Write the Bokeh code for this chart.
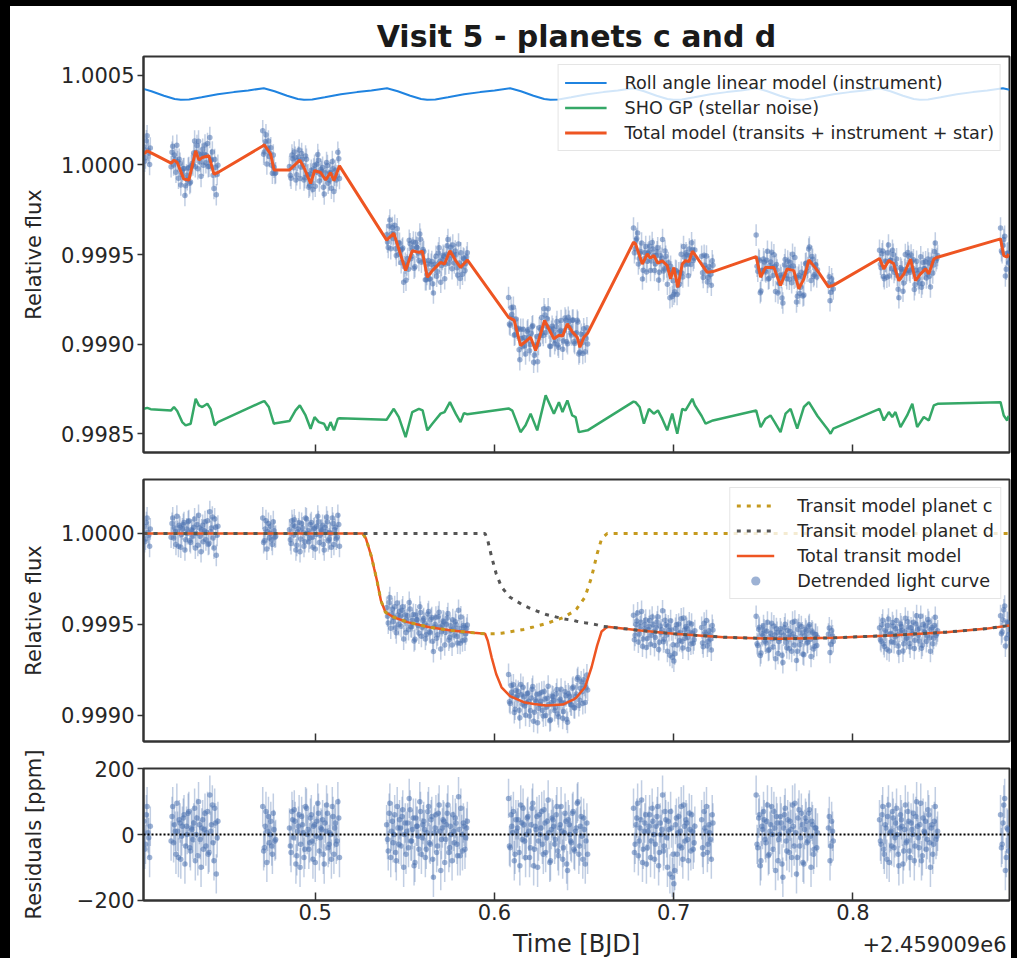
import numpy as np
from bokeh.plotting import figure
from bokeh.layouts import column
from bokeh.models import (ColumnDataSource, FixedTicker, PrintfTickFormatter, Legend,
                          LegendItem, Span, Range1d)
from bokeh.core.properties import value
from bokeh.embed import file_html
from bokeh.resources import INLINE

# ---------------- data (time offset from 2459009 BJD, fluxes in ppm relative to 1) ---------------
# observation times, first half of the exposures
t_obs = [
    0.4045, 0.4054, 0.4063, 0.4072, 0.4081,
    0.4197, 0.4206, 0.4215, 0.4224, 0.4233, 0.4242, 0.4251, 0.4260, 0.4269, 0.4278,
    0.4287, 0.4296, 0.4305, 0.4314, 0.4323, 0.4332, 0.4341, 0.4350, 0.4359, 0.4368,
    0.4377, 0.4386, 0.4395, 0.4404, 0.4413, 0.4422, 0.4431, 0.4440, 0.4449, 0.4458,
    0.4708, 0.4717, 0.4726, 0.4735, 0.4744, 0.4753, 0.4762, 0.4771, 0.4780,
    0.4857, 0.4866, 0.4875, 0.4884, 0.4893, 0.4902, 0.4911, 0.4920, 0.4929, 0.4938,
    0.4947, 0.4956, 0.4965, 0.4974, 0.4983, 0.4992, 0.5001, 0.5010, 0.5019, 0.5028,
    0.5037, 0.5046, 0.5055, 0.5064, 0.5073, 0.5082, 0.5091, 0.5100, 0.5109, 0.5118,
    0.5127, 0.5136,
    0.5399, 0.5408, 0.5417, 0.5426, 0.5435, 0.5444, 0.5453, 0.5462, 0.5471, 0.5480,
    0.5489, 0.5498, 0.5507, 0.5516, 0.5525, 0.5534, 0.5543, 0.5552, 0.5561, 0.5570,
    0.5579, 0.5588, 0.5597, 0.5606, 0.5615, 0.5624, 0.5633, 0.5642, 0.5651, 0.5660,
    0.5669, 0.5678, 0.5687, 0.5696, 0.5705, 0.5714, 0.5723, 0.5732, 0.5741, 0.5750,
    0.5759, 0.5768, 0.5777, 0.5786, 0.5795, 0.5804, 0.5813, 0.5822, 0.5831, 0.5840,
    0.5849,
    0.6079, 0.6088, 0.6097, 0.6106, 0.6115, 0.6124, 0.6133, 0.6142, 0.6151, 0.6160,
    0.6169, 0.6178, 0.6187, 0.6196, 0.6205, 0.6214, 0.6223, 0.6232, 0.6241, 0.6250,
    0.6259, 0.6268, 0.6277, 0.6286, 0.6295, 0.6304, 0.6313, 0.6322, 0.6331, 0.6340,
    0.6349, 0.6358, 0.6367, 0.6376, 0.6385, 0.6394, 0.6403, 0.6412, 0.6421, 0.6430,
    0.6439, 0.6448, 0.6457, 0.6466, 0.6475, 0.6484, 0.6493, 0.6502, 0.6511, 0.6520,
    0.6776, 0.6785, 0.6794, 0.6803, 0.6812, 0.6821, 0.6830, 0.6839, 0.6848, 0.6857,
    0.6866, 0.6875, 0.6884, 0.6893, 0.6902, 0.6911, 0.6920, 0.6929, 0.6938, 0.6947,
    0.6956, 0.6965, 0.6974, 0.6983, 0.6992, 0.7001, 0.7010, 0.7019, 0.7028, 0.7037,
    0.7046, 0.7055, 0.7064, 0.7073, 0.7082, 0.7091, 0.7100, 0.7109, 0.7118,
    0.7156, 0.7165, 0.7174, 0.7183, 0.7192, 0.7201, 0.7210, 0.7219,
    0.7460, 0.7469, 0.7478, 0.7487, 0.7496, 0.7505, 0.7514, 0.7523, 0.7532, 0.7541,
    0.7550, 0.7559, 0.7568, 0.7577, 0.7586, 0.7595, 0.7604, 0.7613, 0.7622, 0.7631,
    0.7640, 0.7649, 0.7658, 0.7667, 0.7676, 0.7685, 0.7694, 0.7703, 0.7712, 0.7721,
    0.7730, 0.7739, 0.7748, 0.7757, 0.7766, 0.7775, 0.7784, 0.7793, 0.7802,
    0.7863, 0.7872, 0.7881, 0.7890,
    0.8148, 0.8157, 0.8166, 0.8175, 0.8184, 0.8193, 0.8202, 0.8211, 0.8220, 0.8229,
    0.8238, 0.8247, 0.8256, 0.8265, 0.8274, 0.8283, 0.8292, 0.8301, 0.8310, 0.8319,
    0.8328, 0.8337, 0.8346, 0.8355, 0.8364, 0.8373, 0.8382, 0.8391, 0.8400, 0.8409,
    0.8418, 0.8427, 0.8436, 0.8445, 0.8454, 0.8463, 0.8472,
    0.8823, 0.8832, 0.8841, 0.8850, 0.8859, 0.8868,
]
resid_ppm = [
    40, -30, 85, -10, 25,
    -20, 85, 30, -60, 10, 45, -75, 25, 60, -35, 0, 70, -50, 15, 35, -80, 50, 100, -15, 20,
    -45, 65, 5, -60, 120, 30, -25, 80, -120, 40,
    85, -40, 70, 10, -25, 40, -60, 15, -15,
    20, -55, 45, 75, -90, 10, 60, -30, 30, -70, 85, 0, -45, 50, -20, 25, -85, 40, 65, -10,
    15, -60, 35, 90, -40, 5, -75, 55, 20, -30, 100, -70,
    30, -50, 95, 10, -25, 60, -80, 20, 45, -35, 75, 0, -60, 35, 110, -20, 15, -95, 50, 25,
    -45, 70, -10, 40, -70, 5, 85, -30, 55, -130, 20, -55, 65, 10, -15, 45, -85, 30, 90, -40,
    0, 60, -25, 35, -65, 15, 80, -50, 25, -10, 40,
    110, -40, 25, 70, -60, 10, 45, -95, 35, 80, -20, 0, 55, -70, 30, 95, -45, 15, -100, 60,
    20, -30, 75, -55, 40, 5, -80, 50, 25, -15, 85, -65, 30, 10, -40, 65, -90, 45, 0, -25,
    70, -50, 20, 100, -35, 55, -75, 15, -20, -60,
    80, -30, 50, -65, 20, 105, -45, 35, -90, 10, 60, -20, 40, -75, 25, 85, -55, 0, 120, -35,
    45, -100, 15, 70, -130, -150, 30, -60, 55, 10, -40, 90, -20, 35, -80, 15, 60, -45, 25,
    45, -60, 20, 85, -30, 5, -75, 35,
    120, -40, 60, -80, 15, 45, -25, 90, -60, 30, 0, 70, -110, 35, -15, 55, -90, 20, 80, -50,
    10, 40, -70, 25, 95, -120, 50, -35, 65, -85, 15, 40, -20, 75, -100, 30, -45, 20, 5,
    20, -80, 40, -20,
    45, -30, 85, -60, 20, 55, -85, 10, 70, -40, 35, 0, -95, 60, 25, -50, 90, -20, 40, -70,
    15, 65, -35, 100, -10, 30, -80, 50, 5, -45, 75, -25, 20, -60, 40, -15, 10,
    60, -30, 90, -110, 20, -50,
]

# observation times, second half of the exposures (interleaved)
t_obs_b = [
    0.4050, 0.4059, 0.4068, 0.4077,
    0.4202, 0.4211, 0.4220, 0.4229, 0.4238, 0.4247, 0.4256, 0.4265, 0.4274, 0.4283,
    0.4292, 0.4301, 0.4310, 0.4319, 0.4328, 0.4337, 0.4346, 0.4355, 0.4364, 0.4373,
    0.4382, 0.4391, 0.4400, 0.4409, 0.4418, 0.4427, 0.4436, 0.4445, 0.4454,
    0.4713, 0.4722, 0.4731, 0.4740, 0.4749, 0.4758, 0.4767, 0.4776,
    0.4862, 0.4871, 0.4880, 0.4889, 0.4898, 0.4907, 0.4916, 0.4925, 0.4934, 0.4943,
    0.4952, 0.4961, 0.4970, 0.4979, 0.4988, 0.4997, 0.5006, 0.5015, 0.5024, 0.5033,
    0.5042, 0.5051, 0.5060, 0.5069, 0.5078, 0.5087, 0.5096, 0.5105, 0.5114, 0.5123,
    0.5132,
    0.5404, 0.5413, 0.5422, 0.5431, 0.5440, 0.5449, 0.5458, 0.5467, 0.5476, 0.5485,
    0.5494, 0.5503, 0.5512, 0.5521, 0.5530, 0.5539, 0.5548, 0.5557, 0.5566, 0.5575,
    0.5584, 0.5593, 0.5602, 0.5611, 0.5620, 0.5629, 0.5638, 0.5647, 0.5656, 0.5665,
    0.5674, 0.5683, 0.5692, 0.5701, 0.5710, 0.5719, 0.5728, 0.5737, 0.5746, 0.5755,
    0.5764, 0.5773, 0.5782, 0.5791, 0.5800, 0.5809, 0.5818, 0.5827, 0.5836, 0.5845,
    0.6084, 0.6093, 0.6102, 0.6111, 0.6120, 0.6129, 0.6138, 0.6147, 0.6156, 0.6165,
    0.6174, 0.6183, 0.6192, 0.6201, 0.6210, 0.6219, 0.6228, 0.6237, 0.6246, 0.6255,
    0.6264, 0.6273, 0.6282, 0.6291, 0.6300, 0.6309, 0.6318, 0.6327, 0.6336, 0.6345,
    0.6354, 0.6363, 0.6372, 0.6381, 0.6390, 0.6399, 0.6408, 0.6417, 0.6426, 0.6435,
    0.6444, 0.6453, 0.6462, 0.6471, 0.6480, 0.6489, 0.6498, 0.6507, 0.6516,
    0.6781, 0.6790, 0.6799, 0.6808, 0.6817, 0.6826, 0.6835, 0.6844, 0.6853, 0.6862,
    0.6871, 0.6880, 0.6889, 0.6898, 0.6907, 0.6916, 0.6925, 0.6934, 0.6943, 0.6952,
    0.6961, 0.6970, 0.6979, 0.6988, 0.6997, 0.7006, 0.7015, 0.7024, 0.7033, 0.7042,
    0.7051, 0.7060, 0.7069, 0.7078, 0.7087, 0.7096, 0.7105, 0.7114,
    0.7161, 0.7170, 0.7179, 0.7188, 0.7197, 0.7206, 0.7215,
    0.7465, 0.7474, 0.7483, 0.7492, 0.7501, 0.7510, 0.7519, 0.7528, 0.7537, 0.7546,
    0.7555, 0.7564, 0.7573, 0.7582, 0.7591, 0.7600, 0.7609, 0.7618, 0.7627, 0.7636,
    0.7645, 0.7654, 0.7663, 0.7672, 0.7681, 0.7690, 0.7699, 0.7708, 0.7717, 0.7726,
    0.7735, 0.7744, 0.7753, 0.7762, 0.7771, 0.7780, 0.7789, 0.7798,
    0.7868, 0.7877, 0.7886,
    0.8153, 0.8162, 0.8171, 0.8180, 0.8189, 0.8198, 0.8207, 0.8216, 0.8225, 0.8234,
    0.8243, 0.8252, 0.8261, 0.8270, 0.8279, 0.8288, 0.8297, 0.8306, 0.8315, 0.8324,
    0.8333, 0.8342, 0.8351, 0.8360, 0.8369, 0.8378, 0.8387, 0.8396, 0.8405, 0.8414,
    0.8423, 0.8432, 0.8441, 0.8450, 0.8459, 0.8468,
    0.8828, 0.8837, 0.8846, 0.8855, 0.8864,
]
resid_ppm_b = [
    -45, 60, 5, -70,
    55, -25, 10, 95, -70, 35, -5, 50, -90, 25, 65, -40, 20, -15, 80, 0, -65, 30, -100, 45,
    15, -35, 70, -55, 10, 90, -80, 35, -10,
    -50, 25, -85, 55, 0, -35, 65, -20,
    -35, 70, -10, 40, -65, 25, -100, 55, 5, -45, 80, 15, -25, 60, -75, 30, -5, 95, -50, 20,
    45, -90, 10, 65, -30, 0, 85, -60, 35, -20, 50,
    -15, 65, -70, 40, 0, -55, 85, -30, 20, 55, -100, 35, 10, -40, 75, -20, 50, -85, 25, -5,
    100, -60, 30, 15, -45, 70, -25, 45, -75, 5, 60, -35, 90, -110, 20, 40, -15, 65, -55, 25,
    -80, 10, 50, -30, 115, -65, 0, 35, -45, 20,
    -35, 60, 5, -80, 45, 20, -55, 90, -15, 30, -70, 50, 10, -40, 80, -95, 25, 55, -20, 0,
    70, -60, 35, -10, 105, -85, 15, 45, -30, 60, -50, 20, 85, -75, 5, 40, -110, 30, -20, 65,
    -45, 10, 95, -60, 25, -5, 50, -90, 35,
    -55, 30, 95, -20, 45, -85, 10, 60, -40, 25, -70, 80, 0, -30, 55, -95, 35, 15, -50, 70,
    -10, 40, -120, 20, -60, -110, 50, 5, -35, 85, -75, 25, 45, -15, 65, -50, 10, -25,
    -40, 70, 10, -55, 30, -15, 60,
    -30, 50, -95, 25, 70, -15, 40, -65, 10, 85, -45, 20, 55, -80, 0, 35, -130, 60, -20, 45,
    -55, 15, 90, -35, 5, -70, 75, -10, 30, -90, 50, -25, 65, -5, 40, -60, 20, -40,
    55, -35, 10,
    -20, 60, -45, 30, -75, 90, 5, -35, 50, -10, 80, -60, 20, 45, -90, 15, -25, 70, -50, 35,
    0, -80, 55, 25, -40, 95, -65, 10, 40, -15, 60, -100, 30, -30, 85, -5,
    -40, 35, 110, -70, 15,
]
flux_err_ppm = 60

# roll-angle instrument model (drawn with its own offset)
roll_t = [
    0.4043, 0.4087, 0.4157, 0.4217, 0.4251, 0.4297, 0.4367, 0.4457, 0.4547, 0.4627,
    0.4714, 0.4774, 0.4844, 0.4904, 0.4938, 0.4984, 0.5054, 0.5144, 0.5234, 0.5314,
    0.5401, 0.5461, 0.5531, 0.5591, 0.5625, 0.5671, 0.5741, 0.5831, 0.5921, 0.6001,
    0.6088, 0.6148, 0.6218, 0.6278, 0.6312, 0.6358, 0.6428, 0.6518, 0.6608, 0.6688,
    0.6775, 0.6835, 0.6905, 0.6965, 0.6999, 0.7045, 0.7115, 0.7205, 0.7295, 0.7375,
    0.7462, 0.7522, 0.7592, 0.7652, 0.7686, 0.7732, 0.7802, 0.7892, 0.7982, 0.8062,
    0.8149, 0.8209, 0.8279, 0.8339, 0.8373, 0.8419, 0.8489, 0.8579, 0.8669, 0.8749,
    0.8836, 0.8873,
]
roll_ppm = [
    423, 410, 385, 367, 362, 364, 376, 393, 405, 414,
    427, 410, 385, 367, 362, 364, 376, 393, 405, 414,
    427, 410, 385, 367, 362, 364, 376, 393, 405, 414,
    427, 410, 385, 367, 362, 364, 376, 393, 405, 414,
    427, 410, 385, 367, 362, 364, 376, 393, 405, 414,
    427, 410, 385, 367, 362, 364, 376, 393, 405, 414,
    427, 410, 385, 367, 362, 364, 376, 393, 405, 414,
    427, 418,
]

# SHO GP stellar noise (drawn with its own offset)
gp_t = [
    0.4045, 0.4064, 0.4083,
    0.4197, 0.4213, 0.4231, 0.4259, 0.4278, 0.4306, 0.4334, 0.4352, 0.4371, 0.4399, 0.4417, 0.4440, 0.4458,
    0.4708, 0.4717, 0.4742, 0.4770, 0.4780,
    0.4857, 0.4891, 0.4915, 0.4947, 0.4975, 0.4997, 0.5021, 0.5050, 0.5068, 0.5086, 0.5105, 0.5127, 0.5136,
    0.5399, 0.5439, 0.5467, 0.5505, 0.5542, 0.5579, 0.5600, 0.5626, 0.5654, 0.5700, 0.5722, 0.5752, 0.5784, 0.5811, 0.5830, 0.5849,
    0.6079, 0.6100, 0.6146, 0.6174, 0.6202, 0.6239, 0.6286, 0.6332, 0.6360, 0.6380, 0.6407, 0.6434, 0.6453, 0.6471, 0.6520,
    0.6776, 0.6787, 0.6810, 0.6834, 0.6862, 0.6889, 0.6912, 0.6936, 0.6964, 0.6992, 0.7020, 0.7048, 0.7066, 0.7104, 0.7118,
    0.7156, 0.7178, 0.7219,
    0.7460, 0.7485, 0.7512, 0.7540, 0.7563, 0.7596, 0.7624, 0.7652, 0.7689, 0.7726, 0.7754, 0.7802,
    0.7863, 0.7875, 0.7890,
    0.8148, 0.8172, 0.8200, 0.8219, 0.8237, 0.8265, 0.8302, 0.8331, 0.8358, 0.8395, 0.8423, 0.8451, 0.8472,
    0.8823, 0.8841, 0.8860, 0.8868,
]
gp_ppm = [
    -1360, -1355, -1362,
    -1369, -1350, -1372, -1434, -1452, -1443, -1304, -1341, -1350, -1332, -1360, -1452, -1434,
    -1320, -1317, -1350, -1443, -1440,
    -1428, -1369, -1341, -1397, -1471, -1406, -1434, -1443, -1480, -1434, -1480, -1415, -1413,
    -1421, -1360, -1406, -1518, -1378, -1360, -1369, -1480, -1443, -1387, -1378, -1323, -1387, -1434, -1384, -1390,
    -1358, -1370, -1490, -1452, -1387, -1480, -1285, -1387, -1323, -1378, -1313, -1397, -1406, -1490, -1480,
    -1320, -1323, -1350, -1443, -1360, -1387, -1369, -1415, -1480, -1387, -1499, -1360, -1369, -1304, -1340,
    -1400, -1443, -1425,
    -1369, -1462, -1415, -1397, -1434, -1490, -1387, -1360, -1471, -1350, -1323, -1400,
    -1480, -1499, -1471,
    -1360, -1425, -1378, -1406, -1378, -1462, -1397, -1332, -1462, -1406, -1425, -1341, -1332,
    -1323, -1397, -1425, -1400,
]

# total model (transits + instrument + star)
total_t = [
    0.4045, 0.4064, 0.4083,
    0.4197, 0.4213, 0.4231, 0.4268, 0.4296, 0.4334, 0.4352, 0.4371, 0.4408, 0.4436, 0.4458,
    0.4708, 0.4717, 0.4733, 0.4752, 0.4771, 0.4780,
    0.4857, 0.4915, 0.4938, 0.4975, 0.4997, 0.5031, 0.5059, 0.5086, 0.5105, 0.5136,
    0.5399, 0.5439, 0.5467, 0.5505, 0.5542, 0.5579, 0.5598, 0.5626, 0.5654, 0.5700, 0.5722, 0.5752, 0.5784, 0.5811, 0.5849,
    0.6079, 0.6110, 0.6146, 0.6174, 0.6202, 0.6230, 0.6280, 0.6332, 0.6360, 0.6380, 0.6407, 0.6434, 0.6462, 0.6477, 0.6499, 0.6520,
    0.6776, 0.6787, 0.6825, 0.6853, 0.6870, 0.6889, 0.6912, 0.6936, 0.6964, 0.6983, 0.7001, 0.7023, 0.7048, 0.7066, 0.7085, 0.7104, 0.7118,
    0.7156, 0.7187, 0.7219,
    0.7460, 0.7485, 0.7512, 0.7559, 0.7596, 0.7633, 0.7670, 0.7698, 0.7726, 0.7754, 0.7802,
    0.7863, 0.7890,
    0.8148, 0.8172, 0.8200, 0.8226, 0.8256, 0.8284, 0.8321, 0.8349, 0.8377, 0.8405, 0.8423, 0.8451, 0.8472,
    0.8823, 0.8841, 0.8860, 0.8868,
]
total_ppm = [
    60, 78, 68,
    9, 26, 13, -80, -85, 78, 26, 41, 50, -52, -43,
    105, 111, 87, 60, -29, -29,
    -29, 26, -15, -104, -33, -43, -85, -43, -89, -6,
    -420, -382, -469, -590, -479, -488, -482, -627, -590, -544, -553, -479, -534, -572, -530,
    -850, -866, -1007, -985, -961, -1035, -868, -970, -950, -955, -886, -930, -961, -1017, -961, -939,
    -432, -440, -553, -497, -520, -506, -549, -535, -562, -636, -572, -683, -553, -534, -540, -482, -500,
    -555, -599, -595,
    -512, -627, -572, -572, -673, -580, -590, -692, -636, -530, -590,
    -680, -672,
    -522, -580, -534, -550, -646, -608, -525, -646, -608, -580, -608, -525, -515,
    -413, -506, -515, -497,
]

# transit models
tr_t = [
    0.4043, 0.5266, 0.5284, 0.5300, 0.5315, 0.5330, 0.5345, 0.5367, 0.5392, 0.5438,
    0.5515, 0.5638, 0.5762, 0.5885, 0.5948, 0.5963, 0.5985, 0.6010, 0.6040, 0.6087,
    0.6164, 0.6220, 0.6289, 0.6381, 0.6443, 0.6459, 0.6505, 0.6542, 0.6573, 0.6598,
    0.6629, 0.6815, 0.7001, 0.7280, 0.7590, 0.7900, 0.8209, 0.8519, 0.8736, 0.8873,
]
planet_c_ppm = [
    0, 0, -29, -80, -130, -195, -258, -368, -432, -460,
    -487, -515, -533, -546, -551, -551, -551, -550, -548, -540,
    -527, -513, -495, -463, -428, -414, -350, -240, -112, -29,
    0, 0, 0, 0, 0, 0, 0, 0, 0, 0,
]
planet_d_ppm = [
    0, 0, 0, 0, 0, 0, 0, 0, 0, 0,
    0, 0, 0, 0, 0, -38, -130, -221, -295, -350,
    -396, -420, -445, -468, -478, -482, -490, -496, -502, -509,
    -513, -533, -551, -570, -579, -573, -560, -542, -524, -505,
]
transit_total_ppm = [
    0, 0, -29, -80, -130, -195, -258, -368, -432, -460,
    -487, -515, -533, -546, -551, -589, -682, -772, -845, -893,
    -927, -937, -945, -940, -912, -900, -845, -735, -616, -538,
    -513, -533, -551, -570, -579, -573, -560, -542, -524, -505,
]

x_ticks = [0.5, 0.6, 0.7, 0.8]
p1_yticks = [0.9985, 0.9990, 0.9995, 1.0000, 1.0005]
p2_yticks = [0.9990, 0.9995, 1.0000]
p3_yticks = [-200, 0, 200]

# ---------------- styling ----------------
FONT = "DejaVu Sans"
TXT = "#262626"
FRAME = "#333333"
BLUE = "#1f83e0"
GREEN = "#35a867"
ORANGE = "#ee5522"
POINT = "#4c72b0"
GOLD = "#c59a1f"
GREY = "#555555"

X0, X1 = 0.4043, 0.8873
FW = 866
LB = 133
RB = 2


def pair(a, b):
    n = min(len(a), len(b))
    return np.asarray(a[:n], float), np.asarray(b[:n], float)


def flux(ppm):
    return 1.0 + np.asarray(ppm, float) * 1e-6


def base_fig(y0, y1, fh, top, bottom):
    p = figure(frame_width=FW, frame_height=fh, x_range=Range1d(X0, X1), y_range=Range1d(y0, y1),
               min_border_left=LB, min_border_right=RB, min_border_top=top, min_border_bottom=bottom,
               output_backend="svg", toolbar_location=None,
               background_fill_color="white", border_fill_color="white")
    p.grid.visible = False
    p.outline_line_color = FRAME
    p.outline_line_width = 2
    for ax in (p.xaxis[0], p.yaxis[0]):
        ax.axis_line_color = FRAME
        ax.axis_line_width = 2
        ax.major_tick_line_color = FRAME
        ax.major_tick_line_width = 1.5
        ax.minor_tick_line_color = None
        ax.major_label_text_font = FONT
        ax.major_label_text_font_size = "21px"
        ax.major_label_text_color = TXT
        ax.axis_label_text_font = FONT
        ax.axis_label_text_font_size = "21px"
        ax.axis_label_text_font_style = "normal"
        ax.axis_label_text_color = TXT
    xa = p.xaxis[0]
    xa.ticker = FixedTicker(ticks=x_ticks)
    xa.major_tick_in = 8
    xa.major_tick_out = 0
    ya = p.yaxis[0]
    ya.major_tick_in = 0
    ya.major_tick_out = 6
    ya.major_label_standoff = 3
    return p


def hide_xlabels(p):
    ax = p.xaxis[0]
    ax.major_label_text_font_size = "0px"
    ax.major_label_text_color = None
    ax.major_label_standoff = 0


def style_legend(lg, gw, standoff):
    lg.location = "top_right"
    lg.label_text_font = FONT
    lg.label_text_font_size = "17.6px"
    lg.label_text_color = TXT
    lg.glyph_width = gw
    lg.glyph_height = 23
    lg.label_height = 23
    lg.label_standoff = standoff
    lg.padding = 6
    lg.spacing = 2
    lg.margin = 8
    lg.border_line_color = "#cccccc"
    lg.border_line_width = 1
    lg.background_fill_color = "white"
    lg.background_fill_alpha = 0.8


def add_points(p, tt_, yy, ee):
    src = ColumnDataSource(dict(t=tt_, y=yy, lo=yy - ee, hi=yy + ee))
    p.segment(x0="t", y0="lo", x1="t", y1="hi", source=src, line_color=POINT,
              line_alpha=0.35, line_width=1.5)
    return p.scatter(x="t", y="y", source=src, size=5.5, fill_color=POINT, fill_alpha=0.55,
                     line_color=None)


ta, ra = pair(t_obs, resid_ppm)
tb, rb = pair(t_obs_b, resid_ppm_b)
t = np.concatenate([ta, tb])
r = np.concatenate([ra, rb])
err = float(flux_err_ppm)
tt, ttot = pair(total_t, total_ppm)
trt, trtot = pair(tr_t, transit_total_ppm)
raw_ppm = np.interp(t, tt, ttot) + r
det_ppm = np.interp(t, trt, trtot) + r

# ---------------- panel 1 ----------------
P1_Y0, P1_Y1 = 0.9983965, 1.0006035
p1 = base_fig(P1_Y0, P1_Y1, 396, 50, 14)
p1.title.text = "Visit 5 - planets c and d"
p1.title.align = "center"
p1.title.text_font = FONT
p1.title.text_font_size = "30px"
p1.title.text_font_style = "bold"
p1.title.text_color = "#1a1a1a"
p1.title.standoff = 6
hide_xlabels(p1)
p1.yaxis[0].ticker = FixedTicker(ticks=p1_yticks)
p1.yaxis[0].formatter = PrintfTickFormatter(format="%.4f")
p1.yaxis[0].axis_label = "Relative flux"
p1.yaxis[0].axis_label_standoff = 12

rt, rp = pair(roll_t, roll_ppm)
r_roll = p1.line(rt, flux(rp), line_color=BLUE, line_width=2)
gt, gpv = pair(gp_t, gp_ppm)
r_gp = p1.line(gt, flux(gpv), line_color=GREEN, line_width=2.5)
add_points(p1, t, flux(raw_ppm), err * 1e-6)
r_tot = p1.line(tt, flux(ttot), line_color=ORANGE, line_width=3)

lg1 = Legend(items=[
    LegendItem(label=value("Roll angle linear model (instrument)"), renderers=[r_roll]),
    LegendItem(label=value("SHO GP (stellar noise)"), renderers=[r_gp]),
    LegendItem(label=value("Total model (transits + instrument + star)"), renderers=[r_tot]),
])
style_legend(lg1, 42, 18)
p1.add_layout(lg1)

# ---------------- panel 2 ----------------
P2_Y0, P2_Y1 = 0.9988571, 1.0002967
p2 = base_fig(P2_Y0, P2_Y1, 262, 13, 6)
hide_xlabels(p2)
p2.yaxis[0].ticker = FixedTicker(ticks=p2_yticks)
p2.yaxis[0].formatter = PrintfTickFormatter(format="%.4f")
p2.yaxis[0].axis_label = "Relative flux"
p2.yaxis[0].axis_label_standoff = 12

r_pts2 = add_points(p2, t, flux(det_ppm), err * 1e-6)
ct, cv = pair(tr_t, planet_c_ppm)
dt, dv = pair(tr_t, planet_d_ppm)
r_ttot = p2.line(trt, flux(trtot), line_color=ORANGE, line_width=2.5)
r_c = p2.line(ct, flux(cv), line_color=GOLD, line_width=3, line_dash="4 6")
r_d = p2.line(dt, flux(dv), line_color=GREY, line_width=3, line_dash="4 6")

lg2 = Legend(items=[
    LegendItem(label=value("Transit model planet c"), renderers=[r_c]),
    LegendItem(label=value("Transit model planet d"), renderers=[r_d]),
    LegendItem(label=value("Total transit model"), renderers=[r_ttot]),
    LegendItem(label=value("Detrended light curve"), renderers=[r_pts2]),
])
style_legend(lg2, 38, 23)
p2.add_layout(lg2)

# ---------------- panel 3 ----------------
P3_Y0, P3_Y1 = -201, 201
p3 = base_fig(P3_Y0, P3_Y1, 132, 21, 30)
p3.xaxis[0].formatter = PrintfTickFormatter(format="%.1f")
p3.xaxis[0].major_label_standoff = 3
p3.yaxis[0].ticker = FixedTicker(ticks=p3_yticks)
p3.yaxis[0].major_label_overrides = {-200: "\u2212200", 0: "0", 200: "200"}
p3.yaxis[0].axis_label = "Residuals [ppm]"
p3.yaxis[0].axis_label_standoff = 28

p3.add_layout(Span(location=0, dimension="width", line_color="black", line_width=2, line_dash="2 2"))
add_points(p3, t, r, err)

# ---------------- x-axis caption strip ----------------
STRIP_H = 28
p4 = figure(frame_width=FW, frame_height=STRIP_H, x_range=Range1d(X0, X1), y_range=Range1d(0, STRIP_H),
            min_border_left=LB, min_border_right=RB, min_border_top=0, min_border_bottom=0,
            x_axis_type=None, y_axis_type=None, output_backend="svg", toolbar_location=None,
            background_fill_color="white", border_fill_color="white")
p4.outline_line_color = None
p4.grid.visible = False
cap_y = STRIP_H - 13
p4.text(x=[(X0 + X1) / 2], y=[cap_y], text=["Time [BJD]"], text_align="center",
        text_baseline="middle", text_font=value(FONT), text_font_size=value("24px"),
        text_color=TXT)
p4.text(x=[X1 - 3.0 / 1793], y=[cap_y], text=["+2.459009e6"], text_align="right",
        text_baseline="middle", text_font=value(FONT), text_font_size=value("21px"),
        text_color=TXT)

layout = column(p1, p2, p3, p4, styles={"background-color": "white"})
html = file_html(layout, INLINE, title="Visit 5 - planets c and d")
css = ("<style>html, body { background: #000000 !important; margin: 0 !important; }"
       " body { padding: 6px 0 0 10px !important; box-sizing: border-box; }</style>")
html = html.replace("</head>", css + "</head>", 1)
with open("out.html", "w") as f:
    f.write(html)
